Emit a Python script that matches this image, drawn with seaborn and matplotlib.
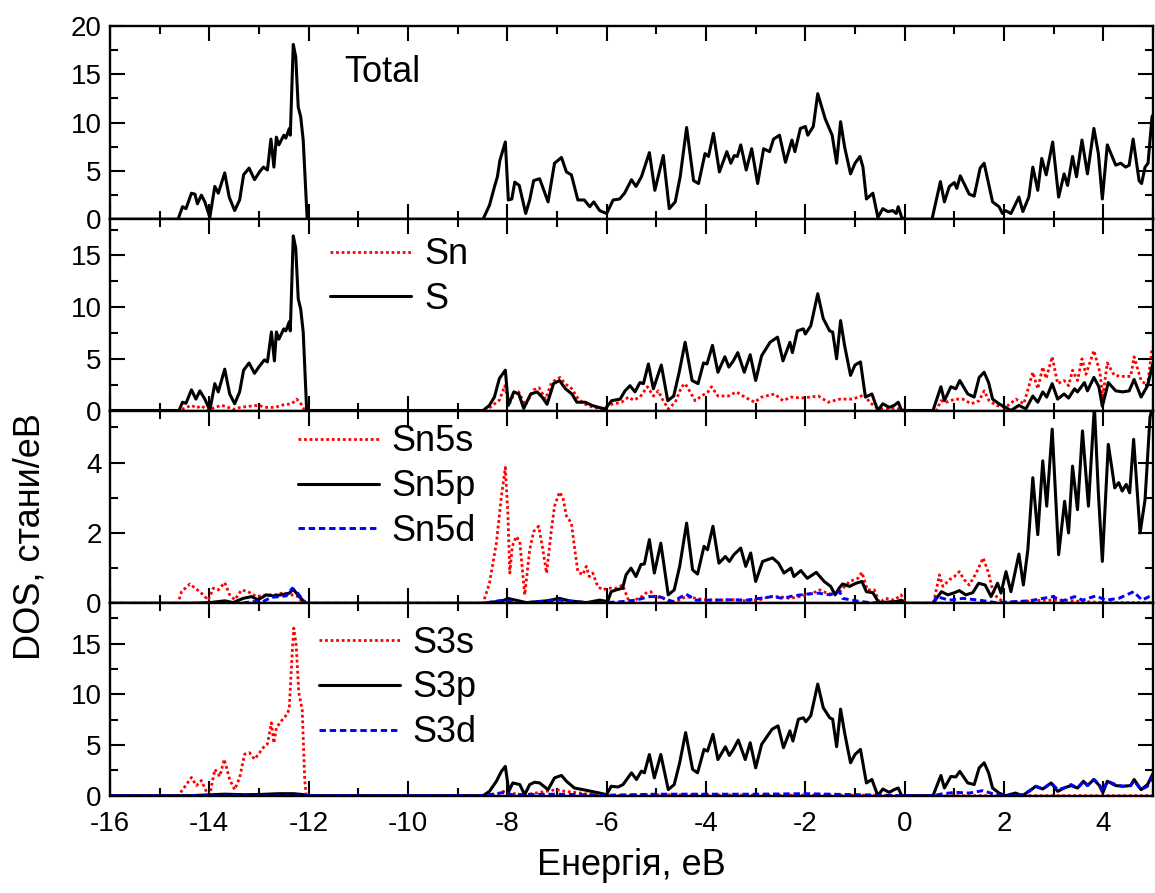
import matplotlib
matplotlib.use("Agg")
import matplotlib.pyplot as plt
import seaborn as sns
from matplotlib.ticker import MultipleLocator

# ---------------- data (energy in eV, DOS in states/eV) ----------------
total_E = [-16, -14.63, -14.54, -14.47, -14.36, -14.29, -14.24, -14.16, -14.09, -13.99, -13.89, -13.82,
           -13.69, -13.60, -13.49, -13.39, -13.31, -13.20, -13.09, -12.99, -12.91, -12.83, -12.76, -12.70,
           -12.65, -12.60, -12.50, -12.46, -12.39, -12.37, -12.31, -12.26, -12.21, -12.16, -12.11, -12.03,
           -8.49, -8.36, -8.26, -8.20, -8.15, -8.04, -7.98, -7.91, -7.85, -7.76, -7.63, -7.55, -7.47, -7.35,
           -7.28, -7.18, -7.05, -6.91, -6.81, -6.71, -6.58, -6.45, -6.34, -6.26, -6.14, -6.00, -5.87, -5.74,
           -5.64, -5.50, -5.41, -5.30, -5.14, -5.03, -4.86, -4.74, -4.62, -4.52, -4.39, -4.25, -4.15, -4.02,
           -3.95, -3.85, -3.73, -3.58, -3.50, -3.43, -3.37, -3.30, -3.19, -3.08, -2.96, -2.84, -2.72, -2.64,
           -2.52, -2.40, -2.27, -2.21, -2.10, -2.00, -1.95, -1.84, -1.75, -1.60, -1.46, -1.37, -1.29, -1.21,
           -1.09, -1.00, -0.90, -0.84, -0.77, -0.64, -0.54, -0.44, -0.34, -0.24, -0.17, -0.13, -0.06, 0.0,
           0.55, 0.72, 0.80, 0.90, 1.00, 1.05, 1.12, 1.30, 1.40, 1.52, 1.60, 1.69, 1.77, 1.90, 1.97, 2.03,
           2.14, 2.30, 2.38, 2.50, 2.58, 2.68, 2.76, 2.85, 2.98, 3.10, 3.21, 3.28, 3.38, 3.46, 3.57, 3.68,
           3.81, 3.90, 3.98, 4.08, 4.25, 4.35, 4.45, 4.52, 4.60, 4.72, 4.77, 4.84, 4.90, 4.98, 5.0]
total_dos = [0, 0, 1.3, 1.1, 2.7, 2.6, 1.6, 2.5, 1.8, 0.2, 3.4, 2.7,
             4.8, 2.3, 0.9, 2.0, 4.6, 5.3, 4.1, 4.9, 5.4, 5.1, 8.3, 5.4,
             8.5, 7.7, 8.7, 8.4, 9.4, 8.7, 18.1, 16.8, 11.6, 10.6, 8.2, 0,
             0, 1.45, 3.35, 4.4, 6.1, 8.0, 2.0, 2.1, 3.85, 3.5, 0.6, 2.0, 4.0, 4.2,
             3.2, 1.8, 5.8, 6.4, 4.9, 4.6, 2.0, 2.0, 1.3, 1.8, 0.9, 0.6, 2.0, 2.1,
             2.7, 4.1, 3.4, 4.4, 6.9, 3.0, 6.6, 1.1, 1.8, 4.4, 9.5, 4.0, 3.7, 6.8,
             6.5, 8.9, 4.9, 7.0, 5.8, 6.6, 6.5, 7.7, 5.1, 7.3, 3.7, 7.3, 7.0, 8.3,
             8.7, 5.9, 8.2, 7.0, 9.4, 9.6, 8.7, 9.6, 13.0, 10.4, 8.7, 5.8, 10.1, 7.5,
             4.7, 5.8, 6.5, 5.4, 2.1, 2.7, 0.2, 1.1, 0.8, 0.9, 0.6, 1.3, 0.2, 0,
             0, 3.9, 1.8, 3.4, 3.8, 3.2, 4.5, 2.6, 2.4, 5.3, 5.8, 3.7, 1.8, 1.3, 0.6, 0.9,
             0.6, 2.3, 0.8, 2.3, 5.4, 3.0, 6.3, 4.6, 8.0, 2.3, 4.7, 3.5, 6.5, 4.4, 8.2, 4.7,
             9.4, 6.8, 2.1, 7.7, 5.6, 5.8, 5.4, 5.6, 8.3, 4.0, 3.7, 5.4, 5.8, 10.6, 10.8]

s_E = [-16, -14.61, -14.54, -14.47, -14.36, -14.27, -14.19, -14.09, -13.99, -13.89, -13.82, -13.69,
       -13.59, -13.49, -13.39, -13.31, -13.20, -13.09, -12.99, -12.89, -12.83, -12.75, -12.69, -12.65,
       -12.60, -12.50, -12.46, -12.39, -12.37, -12.31, -12.26, -12.21, -12.16, -12.11, -12.04,
       -8.49, -8.36, -8.26, -8.16, -8.04, -7.98, -7.87, -7.77, -7.67, -7.53, -7.40, -7.30, -7.20, -7.07,
       -6.95, -6.83, -6.70, -6.60, -6.43, -6.30, -6.16, -6.03, -5.90, -5.73, -5.63, -5.53, -5.43, -5.33,
       -5.26, -5.16, -5.06, -4.90, -4.77, -4.65, -4.54, -4.42, -4.28, -4.16, -4.05, -3.98, -3.87, -3.76,
       -3.62, -3.54, -3.45, -3.36, -3.23, -3.11, -3.00, -2.88, -2.71, -2.56, -2.45, -2.31, -2.26, -2.16,
       -2.04, -2.00, -1.89, -1.75, -1.64, -1.51, -1.45, -1.37, -1.29, -1.21, -1.09, -1.00, -0.89, -0.79,
       -0.66, -0.54, -0.44, -0.31, -0.21, -0.13, -0.06,
       0.57, 0.73, 0.80, 0.93, 1.03, 1.11, 1.27, 1.40, 1.50, 1.60, 1.69, 1.77, 1.90, 2.03, 2.14, 2.30,
       2.44, 2.58, 2.68, 2.78, 2.86, 2.97, 3.08, 3.21, 3.30, 3.42, 3.48, 3.62, 3.68, 3.81, 3.91, 3.98,
       4.10, 4.25, 4.39, 4.52, 4.62, 4.76, 4.89, 4.99, 5.0]
s_dos = [0, 0, 0.8, 0.7, 2.0, 1.1, 1.9, 1.1, 0, 2.6, 1.8, 4.0,
         1.6, 0.65, 1.8, 3.9, 4.6, 3.6, 4.3, 4.9, 4.7, 7.6, 4.8, 7.6,
         6.9, 7.9, 7.7, 8.6, 7.7, 16.9, 15.7, 10.8, 9.8, 7.6, 0,
         0, 0.5, 1.3, 3.1, 3.9, 0.5, 1.8, 1.6, 0.2, 1.6, 1.8, 1.3, 0.6, 2.6,
         2.9, 2.1, 1.6, 0.8, 0.8, 0.5, 0.3, 0.15, 0.95, 1.1, 1.9, 2.4, 1.8, 2.7,
         2.6, 4.5, 2.1, 4.4, 0.95, 1.4, 3.7, 6.6, 2.9, 2.6, 4.6, 4.5, 6.3, 3.7,
         5.2, 4.2, 4.8, 5.6, 3.7, 5.4, 2.9, 5.3, 6.6, 7.1, 4.8, 6.6, 5.6, 7.7,
         7.9, 7.4, 8.2, 11.3, 8.9, 7.7, 7.6, 5.0, 8.7, 6.3, 3.4, 4.4, 4.7, 1.3,
         1.6, 0, 0.65, 0.3, 0.5, 0.8, 0,
         0, 2.3, 0.95, 2.3, 2.1, 2.9, 1.6, 1.3, 3.2, 3.7, 2.7, 1.1, 0.65, 0.3, 0, 0.5,
         0.15, 1.4, 0.8, 1.8, 1.3, 2.6, 1.1, 1.6, 1.2, 2.1, 1.8, 2.7, 1.9, 3.2, 2.3, 0.4,
         2.7, 1.9, 1.8, 1.9, 3.0, 1.3, 2.4, 4.4, 4.5]

sn_E = [-16, -14.60, -14.46, -14.36, -14.26, -14.16, -14.02, -13.89, -13.75, -13.62, -13.49, -13.38,
        -13.22, -13.02, -12.85, -12.68, -12.51, -12.34, -12.24, -12.14, -12.08,
        -8.43, -8.16, -8.05, -7.97, -7.84, -7.77, -7.64, -7.47, -7.36, -7.23, -7.11, -7.01, -6.94, -6.84,
        -6.70, -6.57, -6.43, -6.27, -6.10, -5.90, -5.70, -5.56, -5.46, -5.33, -5.18, -5.06, -4.96, -4.88,
        -4.76, -4.62, -4.49, -4.42, -4.32, -4.22, -4.09, -3.96, -3.89, -3.76, -3.55, -3.39, -3.22, -3.02,
        -2.88, -2.62, -2.45, -2.28, -2.08, -1.74, -1.54, -1.31, -1.08, -0.91, -0.81, -0.71, -0.57, -0.44,
        -0.27, -0.07, 0.0,
        0.64, 0.73, 0.84, 1.01, 1.17, 1.34, 1.50, 1.60, 1.70, 1.84, 2.03, 2.24, 2.40, 2.58, 2.68, 2.78,
        2.85, 2.97, 3.08, 3.21, 3.30, 3.38, 3.48, 3.57, 3.65, 3.81, 3.93, 3.99, 4.08, 4.22, 4.39, 4.55,
        4.62, 4.76, 4.89, 4.98, 5.0]
sn_dos = [0, 0, 0.3, 0.5, 0.25, 0.45, 0, 0.3, 0.5, 0.3, 0.1, 0.3,
          0.4, 0.5, 0.3, 0.3, 0.55, 0.65, 1.1, 0.55, 0,
          0, 1.0, 2.4, 0.5, 1.9, 1.8, 0.5, 2.0, 2.2, 1.1, 2.7, 3.0, 3.2, 2.6,
          2.1, 1.1, 0.6, 0.3, 0.15, 0.6, 0.8, 1.3, 1.0, 1.3, 2.3, 1.4, 1.9, 1.1,
          0.15, 0.8, 2.3, 2.6, 1.8, 0.95, 1.4, 1.8, 2.3, 1.4, 1.4, 1.8, 1.3, 0.8,
          1.3, 1.6, 0.95, 1.3, 1.2, 1.4, 0.8, 1.1, 1.1, 1.3, 1.6, 0.8, 0.3, 0.15,
          0.2, 0.15, 0,
          0, 0.95, 0.8, 1.1, 1.1, 0.65, 0.95, 1.9, 0.95, 0.5, 0.3, 1.1, 0.65, 3.7, 2.1, 4.2,
          3.1, 5.2, 2.6, 2.9, 2.4, 3.9, 2.9, 5.0, 3.5, 5.8, 3.7, 1.4, 4.6, 3.4, 3.3, 3.3,
          5.2, 2.9, 2.4, 6.0, 6.1]

sn5s_E = [-16, -14.63, -14.56, -14.39, -14.29, -14.19, -14.09, -14.02, -13.92, -13.82, -13.69, -13.59,
          -13.49, -13.35, -13.22, -13.05, -12.85, -12.68, -12.51, -12.34, -12.21, -12.14, -12.08,
          -8.49, -8.36, -8.22, -8.12, -8.04, -7.99, -7.95, -7.90, -7.82, -7.75, -7.65, -7.55, -7.47, -7.37,
          -7.29, -7.21, -7.12, -7.05, -6.95, -6.88, -6.81, -6.71, -6.65, -6.58, -6.48, -6.41, -6.35, -6.28,
          -6.18, -6.08, -5.98, -5.81, -5.68, -5.55, -5.34, -5.21, -5.11, -5.01, -4.91, -4.74, -4.60, -4.40,
          -4.20, -4.00, -3.73, -3.46, -3.19, -2.92, -2.72, -2.52, -2.32, -2.11, -1.85, -1.71, -1.58, -1.41,
          -1.31, -1.11, -0.94, -0.86, -0.75, -0.61, -0.51, -0.38, -0.21, -0.07, 0.0,
          0.58, 0.70, 0.77, 0.90, 1.00, 1.10, 1.20, 1.30, 1.44, 1.58, 1.69, 1.77, 1.87, 2.04, 2.37, 2.78,
          3.18, 3.58, 4.05, 4.52, 5.0]
sn5s_dos = [0, 0, 0.33, 0.55, 0.43, 0.33, 0.19, 0.09, 0.43, 0.38, 0.59, 0.24,
            0.1, 0.38, 0.33, 0.19, 0.24, 0.24, 0.3, 0.24, 0.19, 0.05, 0,
            0, 0.57, 1.71, 3.04, 3.86, 2.57, 0.86, 1.62, 1.9, 1.76, 0.24, 1.52, 2.04, 2.19,
            1.57, 0.86, 2.0, 2.76, 3.16, 3.0, 2.48, 2.28, 1.62, 0.9, 0.81, 1.05, 0.76, 0.86,
            0.48, 0.38, 0.43, 0.43, 0.52, 0.05, 0.14, 0.29, 0.33, 0.14, 0.19, 0.02, 0.05, 0.19,
            0.14, 0.1, 0.09, 0.1, 0.07, 0.1, 0.19, 0.19, 0.14, 0.19, 0.29, 0.38, 0.3, 0.24,
            0.33, 0.62, 0.71, 0.88, 0.38, 0.38, 0.02, 0.14, 0.09, 0.24, 0,
            0, 0.81, 0.48, 0.67, 0.76, 0.9, 0.67, 0.52, 0.86, 1.29, 0.86, 0.38, 0.14, 0.02, 0.05, 0.09,
            0.09, 0.05, 0.02, 0.02, 0.02]

sn5p_E = [-16, -14.32, -13.99, -13.69, -13.52, -13.32, -13.15, -13.02, -12.85, -12.72, -12.55, -12.39,
          -12.31, -12.19, -12.06,
          -8.49, -8.09, -7.99, -7.62, -7.21, -6.95, -6.75, -6.41, -6.14, -5.98, -5.91, -5.81, -5.68, -5.61,
          -5.51, -5.41, -5.31, -5.24, -5.14, -5.04, -4.91, -4.76, -4.64, -4.53, -4.39, -4.27, -4.17, -4.04,
          -3.97, -3.86, -3.74, -3.61, -3.53, -3.44, -3.30, -3.20, -3.10, -3.00, -2.86, -2.66, -2.54, -2.43,
          -2.29, -2.23, -2.09, -1.96, -1.78, -1.62, -1.49, -1.40, -1.32, -1.25, -1.11, -0.98, -0.86, -0.77,
          -0.64, -0.52, -0.17, -0.07, 0.0,
          0.57, 0.74, 0.87, 1.00, 1.10, 1.23, 1.37, 1.49, 1.62, 1.74, 1.87, 1.94, 2.04, 2.14, 2.30, 2.39,
          2.48, 2.58, 2.68, 2.78, 2.86, 2.97, 3.10, 3.22, 3.30, 3.38, 3.48, 3.58, 3.70, 3.82, 3.90, 3.98,
          4.10, 4.23, 4.31, 4.38, 4.46, 4.53, 4.61, 4.74, 4.84, 4.94, 5.0]
sn5p_dos = [0, 0, 0.02, 0.07, 0.02, 0.14, 0.19, 0.1, 0.24, 0.21, 0.24, 0.29,
            0.4, 0.19, 0,
            0, 0.07, 0.14, 0.02, 0.07, 0.14, 0.07, 0.02, 0.09, 0.05, 0.33, 0.38, 0.43, 0.81,
            1.0, 0.76, 1.1, 1.12, 1.81, 0.86, 1.71, 0.24, 0.38, 1.05, 2.28, 0.95, 0.83, 1.62,
            1.52, 2.19, 1.14, 1.33, 1.19, 1.38, 1.57, 1.05, 1.43, 0.62, 1.19, 1.29, 1.14, 0.86,
            1.0, 0.76, 0.93, 0.71, 0.88, 0.62, 0.48, 0.24, 0.43, 0.55, 0.48, 0.57, 0.62, 0.33,
            0.3, 0.02, 0.05, 0.09, 0,
            0, 0.33, 0.24, 0.3, 0.36, 0.24, 0.3, 0.57, 0.52, 0.19, 0.57, 0.29, 0.9, 0.33, 1.4, 0.52,
            1.52, 3.57, 1.95, 4.05, 2.76, 4.95, 1.38, 2.9, 2.0, 3.9, 2.66, 4.9, 2.76, 5.6, 3.14, 1.19,
            4.52, 3.28, 3.43, 3.19, 3.38, 3.14, 4.66, 2.0, 2.95, 5.3, 5.6]

sn5d_E = [-16, -13.38, -13.11, -12.92, -12.75, -12.58, -12.45, -12.33, -12.22, -12.12, -12.04,
          -8.49, -8.09, -7.75, -7.35, -6.95, -6.41, -6.01, -5.68, -5.41, -5.14, -4.94, -4.67, -4.40, -4.20,
          -3.86, -3.46, -3.19, -2.92, -2.66, -2.45, -2.25, -1.98, -1.75, -1.51, -1.31, -1.25, -0.98, -0.71,
          -0.17, 0.0,
          0.57, 0.64, 0.90, 1.17, 1.50, 1.84, 2.24, 2.51, 2.78, 2.98, 3.18, 3.42, 3.58, 3.85, 4.05, 4.31,
          4.61, 4.78, 4.99, 5.0]
sn5d_dos = [0, 0, 0.05, 0.05, 0.17, 0.19, 0.21, 0.43, 0.29, 0.1, 0,
            0, 0.09, 0, 0.05, 0.09, 0.02, 0.02, 0.05, 0.09, 0.19, 0.19, 0.05, 0.26, 0.09,
            0.09, 0.1, 0.09, 0.14, 0.19, 0.14, 0.21, 0.26, 0.29, 0.24, 0.33, 0.14, 0.07, 0.02,
            0, 0,
            0, 0.19, 0.09, 0.14, 0.09, 0.02, 0.05, 0.07, 0.14, 0.19, 0.07, 0.19, 0.09, 0.21, 0.09, 0.14,
            0.33, 0.09, 0.24, 0.25]

s3s_E = [-16, -14.63, -14.53, -14.36, -14.26, -14.16, -14.06, -13.99, -13.89, -13.79, -13.70, -13.59,
         -13.49, -13.39, -13.29, -13.19, -13.09, -12.99, -12.89, -12.83, -12.75, -12.70, -12.65, -12.60,
         -12.50, -12.43, -12.39, -12.33, -12.30, -12.25, -12.20, -12.13, -12.08, -12.05,
         -8.49, -8.22, -8.09, -7.99, -7.65, -7.43, -7.01, -6.81, -6.68, -6.28, -5.95, -5.0, -3.0, -0.5,
         0.0, 0.55, 5.0]
s3s_dos = [0, 0, 0.64, 1.8, 1.0, 1.5, 0.4, 0.1, 2.6, 1.9, 3.6, 1.6,
           0.6, 1.76, 4.1, 4.24, 3.6, 4.24, 4.9, 5.1, 7.2, 5.2, 6.7, 7.05,
           7.7, 8.05, 8.7, 14.2, 16.55, 14.8, 10.2, 8.5, 1.6, 0,
           0, 0.1, 0.43, 0.26, 0.1, 0.26, 0.6, 0.4, 0.35, 0.1, 0, 0.1, 0.05, 0.05,
           0, 0, 0]

s3p_E = [-16, -14.4, -13.7, -13.3, -13.0, -12.6, -12.3, -12.1, -12.02,
         -8.49, -8.36, -8.22, -8.12, -8.04, -7.97, -7.89, -7.75, -7.65, -7.55, -7.45, -7.35, -7.18, -7.05,
         -6.91, -6.81, -6.65, -6.48, -6.31, -6.14, -6.00, -5.91, -5.77, -5.67, -5.50, -5.40, -5.30, -5.24,
         -5.14, -5.04, -4.91, -4.76, -4.64, -4.53, -4.41, -4.27, -4.17, -4.04, -3.97, -3.86, -3.76, -3.61,
         -3.53, -3.45, -3.35, -3.21, -3.11, -3.00, -2.88, -2.67, -2.55, -2.44, -2.31, -2.25, -2.14, -2.04,
         -1.99, -1.89, -1.75, -1.64, -1.51, -1.45, -1.37, -1.29, -1.21, -1.09, -1.00, -0.89, -0.77, -0.66,
         -0.54, -0.44, -0.31, -0.21, -0.13, -0.06,
         0.57, 0.73, 0.80, 0.93, 1.03, 1.11, 1.27, 1.40, 1.50, 1.60, 1.69, 1.77, 1.90, 2.03, 2.23, 2.37,
         2.50, 2.64, 2.78, 2.95, 3.08, 3.21, 3.35, 3.48, 3.60, 3.68, 3.81, 3.92, 3.99, 4.08, 4.25, 4.39,
         4.55, 4.62, 4.76, 4.89, 4.99, 5.0]
s3p_dos = [0, 0, 0.15, 0.1, 0.12, 0.2, 0.2, 0.1, 0,
           0, 0.43, 1.43, 2.4, 2.9, 0.43, 1.26, 1.1, 0.1, 1.1, 1.33, 1.26, 0.6, 1.76,
           2.0, 1.43, 0.76, 0.6, 0.43, 0.26, 0.1, 0.93, 0.86, 1.1, 2.26, 1.6, 2.43, 2.26,
           4.07, 1.76, 4.07, 0.6, 1.1, 3.25, 6.23, 2.6, 2.26, 4.57, 4.4, 6.06, 3.57, 4.83,
           3.97, 4.57, 5.5, 3.57, 5.23, 2.75, 5.07, 6.56, 6.9, 4.74, 6.4, 5.4, 7.55, 7.7,
           7.3, 7.9, 11.03, 8.7, 7.7, 7.55, 4.84, 8.55, 6.23, 3.25, 4.07, 4.57, 1.26, 1.6,
           0, 0.66, 0.33, 0.6, 0.76, 0,
           0, 2.0, 0.76, 1.9, 1.85, 2.4, 1.26, 1.1, 2.75, 3.25, 2.26, 0.76, 0.26, 0, 0.26, 0,
           0.43, 0.93, 0.66, 1.26, 0.43, 0.76, 1.0, 0.76, 1.43, 1.0, 1.6, 1.0, 0.3, 1.43, 1.0, 0.93,
           1.0, 1.6, 0.6, 1.1, 2.1, 2.2]

s3d_E = [-16, -8.49, -8.1, -7.9, -7.0, -6.0, -5.0, -4.0, -3.0, -2.0, -1.5, -0.5, 0.0,
         0.57, 0.77, 1.03, 1.30, 1.57, 1.84, 2.10, 2.37, 2.50, 2.64, 2.78, 2.95, 3.08, 3.21, 3.35, 3.48,
         3.62, 3.68, 3.81, 3.92, 3.99, 4.08, 4.25, 4.39, 4.55, 4.62, 4.76, 4.89, 4.99, 5.0]
s3d_dos = [0, 0, 0.3, 0.1, 0.15, 0.05, 0.15, 0.15, 0.15, 0.2, 0.15, 0.05, 0,
           0, 0.2, 0.33, 0.26, 0.5, 0.1, 0, 0.1, 0.43, 0.93, 0.66, 1.26, 0.6, 0.76, 1.1, 0.76,
           1.43, 1.0, 1.6, 1.1, 0.43, 1.43, 1.1, 0.93, 1.0, 1.43, 0.6, 0.93, 1.9, 2.0]

panel_ylims = [20.0, 18.5, 5.48, 19.0]
panel_ymajor = [5, 5, 2, 5]
panel_yminor = [2.5, 2.5, 1, 2.5]
x_ticks = list(range(-16, 5, 2))

# ---------------- styling ----------------
sns.set_style("ticks")
plt.rcParams['font.family'] = ['Liberation Sans', 'DejaVu Sans']
plt.rcParams['axes.unicode_minus'] = False
for key in ['text.color', 'axes.labelcolor', 'xtick.color', 'ytick.color', 'axes.edgecolor']:
    plt.rcParams[key] = 'black'

RED = '#FF0000'
BLUE = '#0000FF'
BLACK = '#000000'
sty_red = dict(color=RED, linestyle=(0, (1, 1.0)), linewidth=2.0)
sty_blk = dict(color=BLACK, linestyle='-', linewidth=2.2)
sty_blu = dict(color=BLUE, linestyle=(0, (2.2, 1.3)), linewidth=2.1)

fig = plt.figure(figsize=(11.55, 8.93), dpi=100)
W, H = 1155.0, 893.0
left, right = 110 / W, 1153 / W
edges_px = [26, 219.3, 410.5, 603.3, 795.7]
axes = []
for i in range(4):
    top, bot = edges_px[i], edges_px[i + 1]
    ax = fig.add_axes([left, 1 - bot / H, right - left, (bot - top) / H])
    axes.append(ax)

panels = [
    [(total_E, total_dos, sty_blk, 'Total')],
    [(sn_E, sn_dos, sty_red, 'Sn'), (s_E, s_dos, sty_blk, 'S')],
    [(sn5s_E, sn5s_dos, sty_red, 'Sn5s'), (sn5p_E, sn5p_dos, sty_blk, 'Sn5p'),
     (sn5d_E, sn5d_dos, sty_blu, 'Sn5d')],
    [(s3s_E, s3s_dos, sty_red, 'S3s'), (s3p_E, s3p_dos, sty_blk, 'S3p'),
     (s3d_E, s3d_dos, sty_blu, 'S3d')],
]

for i, ax in enumerate(axes):
    for (ex, dy, sty, lab) in panels[i]:
        sns.lineplot(x=ex, y=dy, ax=ax, label=lab, legend=False, estimator=None,
                     sort=True, **sty)
    ax.set_xlim(-16, 5)
    ax.set_ylim(0, panel_ylims[i])
    ax.xaxis.set_major_locator(MultipleLocator(2))
    ax.xaxis.set_minor_locator(MultipleLocator(1))
    ax.yaxis.set_major_locator(MultipleLocator(panel_ymajor[i]))
    ax.yaxis.set_minor_locator(MultipleLocator(panel_yminor[i]))
    ax.tick_params(which='both', direction='in', top=True, right=True, width=1.5, colors='black')
    ax.tick_params(which='major', length=11)
    ax.tick_params(which='minor', length=6)
    ax.tick_params(axis='both', labelsize=20, pad=6, labelcolor='black')
    ax.tick_params(axis='x', pad=11)
    for sp in ax.spines.values():
        sp.set_linewidth(1.7)
        sp.set_color('black')
    ax.set_xlabel('')
    ax.set_ylabel('')
    if i < 3:
        ax.tick_params(axis='x', labelbottom=False)
    else:
        ax.set_xticks(x_ticks)
        ax.set_xlim(-16, 5)

# legends / labels
axes[0].text(0.225, 0.76, 'Total', transform=axes[0].transAxes, fontsize=26,
             ha='left', va='center', color='black')
leg_pos = {1: (0.211, 0.698), 2: (0.180, 0.605), 3: (0.200, 0.560)}
for i, (x0, y0) in leg_pos.items():
    axes[i].legend(loc='center left', bbox_to_anchor=(x0, y0), frameon=False, fontsize=26,
                   handlelength=2.25, handletextpad=0.35, labelspacing=0.27,
                   borderpad=0, borderaxespad=0)

axes[3].set_xlabel('Енергія, еВ', fontsize=26, labelpad=8, color='black')
fig.text(30 / W, 1 - 537 / H, 'DOS, стани/еВ', rotation=90, fontsize=26,
         ha='center', va='center', color='black')

fig.savefig('out.png', dpi=100)
